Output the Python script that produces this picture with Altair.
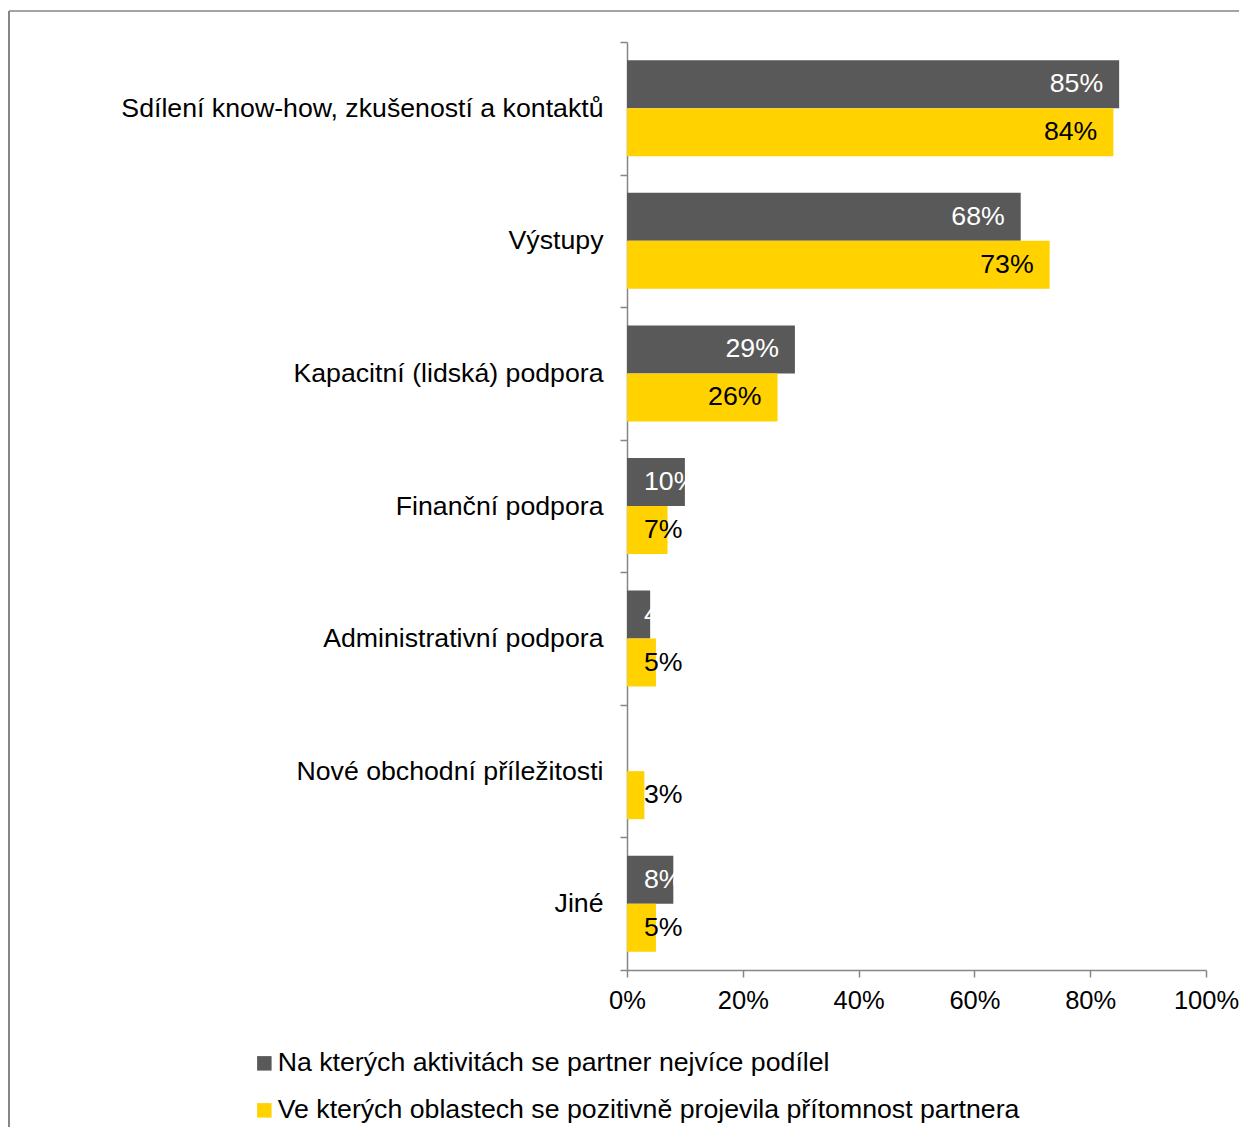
import altair as alt
import pandas as pd

categories = [
    "Sdílení know-how, zkušeností a kontaktů",
    "Výstupy",
    "Kapacitní (lidská) podpora",
    "Finanční podpora",
    "Administrativní podpora",
    "Nové obchodní příležitosti",
    "Jiné",
]
series_names = [
    "Na kterých aktivitách se partner nejvíce podílel",
    "Ve kterých oblastech se pozitivně projevila přítomnost partnera",
]
activity_values = [85, 68, 29, 10, 4, None, 8]
area_values = [84, 73, 26, 7, 5, 3, 5]
x_ticks = [0, 20, 40, 60, 80, 100]

rows = []
for i, c in enumerate(categories):
    for s_idx, vals in enumerate([activity_values, area_values]):
        v = vals[i]
        if v is None:
            continue
        rows.append({"cat": c, "series": series_names[s_idx], "order": s_idx, "value": v})
df = pd.DataFrame(rows)

FONT = "Liberation Sans"
FS = 26.7
XFS = 25.5
GRAY = "#595959"
YELLOW = "#FFD200"
AXIS = "#868686"

y_enc = alt.Y(
    "cat:N",
    sort=categories,
    scale=alt.Scale(paddingInner=0, paddingOuter=0),
    axis=alt.Axis(
        title=None, tickBand="extent", tickSize=7, tickColor=AXIS, domainColor=AXIS,
        tickWidth=1.5, domainWidth=1.5, grid=False,
        labelFontSize=FS, labelColor="black", labelFont=FONT, labelPadding=17, labelLimit=0,
    ),
)
yoff_enc = alt.YOffset(
    "series:N", sort=series_names, scale=alt.Scale(paddingInner=0, paddingOuter=0.381)
)
x_enc = alt.X(
    "value:Q",
    scale=alt.Scale(domain=[0, 100], nice=False),
    axis=alt.Axis(
        title=None, values=x_ticks, labelExpr="datum.value + '%'", grid=False,
        tickSize=7, tickColor=AXIS, domainColor=AXIS, tickWidth=1.5, domainWidth=1.5,
        labelFontSize=XFS, labelColor="black", labelFont=FONT, labelPadding=11,
        labelFlush=False, labelOverlap=False,
    ),
)

base = alt.Chart(df)

bars = base.mark_bar().encode(
    y=y_enc,
    yOffset=yoff_enc,
    x=x_enc,
    color=alt.Color(
        "series:N",
        sort=series_names,
        scale=alt.Scale(domain=series_names, range=[GRAY, YELLOW]),
        legend=alt.Legend(
            title=None, orient="none", legendX=-376, legendY=1008, direction="vertical",
            symbolType="square", symbolSize=210, symbolStrokeWidth=0, labelFontSize=FS,
            labelFont=FONT, labelColor="black", labelLimit=0, rowPadding=19, labelOffset=0,
            padding=0,
        ),
    ),
)

txt_color = alt.condition(
    alt.datum.series == series_names[0], alt.value("white"), alt.value("black")
)

labels_big = base.transform_filter("datum.value >= 15").mark_text(
    align="right", baseline="middle", dx=-16, fontSize=FS, font=FONT
).encode(
    y=alt.Y("cat:N", sort=categories),
    yOffset=alt.YOffset("series:N", sort=series_names),
    x=alt.X("value:Q"),
    text=alt.Text("label:N"),
    color=txt_color,
).transform_calculate(label="datum.value + '%'")

labels_small = base.transform_filter("datum.value < 15").transform_calculate(
    label="datum.value + '%'", zero="0"
).mark_text(align="left", baseline="middle", dx=17, fontSize=FS, font=FONT).encode(
    y=alt.Y("cat:N", sort=categories),
    yOffset=alt.YOffset("series:N", sort=series_names),
    x=alt.X("zero:Q"),
    text=alt.Text("label:N"),
    color=txt_color,
)

frame_data = alt.Data(values=[{"k": 1}])
frame_top = alt.Chart(frame_data).mark_rule(color=AXIS, strokeWidth=1.5).encode(
    x=alt.value(-618), x2=alt.value(612), y=alt.value(-31)
)
frame_left = alt.Chart(frame_data).mark_rule(color=AXIS, strokeWidth=2).encode(
    x=alt.value(-618), y=alt.value(-31), y2=alt.value(1090)
)

chart = alt.layer(bars, labels_big, labels_small, frame_top, frame_left).properties(
    width=579,
    height=928,
    autosize=alt.AutoSizeParams(type="none"),
    padding={"left": 619, "top": 34, "right": 33, "bottom": 157},
).configure(font=FONT).configure_view(stroke="transparent", strokeWidth=0)

chart.save("out.html", embed_options={"renderer": "svg", "actions": False})
